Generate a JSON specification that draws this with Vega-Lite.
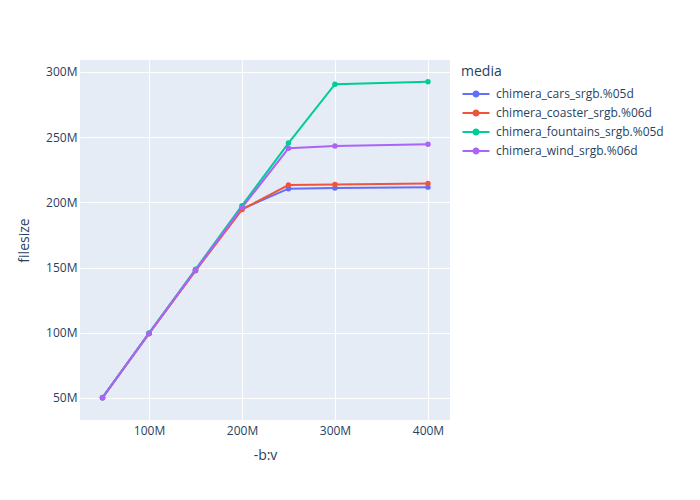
{
  "$schema": "https://vega.github.io/schema/vega-lite/v6.json",
  "width": 370,
  "height": 360,
  "autosize": {"type": "none"},
  "padding": {"left": 80, "top": 60, "right": 250, "bottom": 80},
  "background": "white",
  "data": {
    "values": [
      {"media": "chimera_cars_srgb.%05d", "bv": 50000000, "filesize": 50200000},
      {"media": "chimera_cars_srgb.%05d", "bv": 100000000, "filesize": 99500000},
      {"media": "chimera_cars_srgb.%05d", "bv": 150000000, "filesize": 148000000},
      {"media": "chimera_cars_srgb.%05d", "bv": 200000000, "filesize": 195000000},
      {"media": "chimera_cars_srgb.%05d", "bv": 250000000, "filesize": 210500000},
      {"media": "chimera_cars_srgb.%05d", "bv": 300000000, "filesize": 211000000},
      {"media": "chimera_cars_srgb.%05d", "bv": 400000000, "filesize": 211700000},
      {"media": "chimera_coaster_srgb.%06d", "bv": 50000000, "filesize": 50200000},
      {"media": "chimera_coaster_srgb.%06d", "bv": 100000000, "filesize": 99300000},
      {"media": "chimera_coaster_srgb.%06d", "bv": 150000000, "filesize": 147500000},
      {"media": "chimera_coaster_srgb.%06d", "bv": 200000000, "filesize": 194500000},
      {"media": "chimera_coaster_srgb.%06d", "bv": 250000000, "filesize": 213300000},
      {"media": "chimera_coaster_srgb.%06d", "bv": 300000000, "filesize": 213800000},
      {"media": "chimera_coaster_srgb.%06d", "bv": 400000000, "filesize": 214400000},
      {"media": "chimera_fountains_srgb.%05d", "bv": 50000000, "filesize": 50300000},
      {"media": "chimera_fountains_srgb.%05d", "bv": 100000000, "filesize": 99800000},
      {"media": "chimera_fountains_srgb.%05d", "bv": 150000000, "filesize": 148700000},
      {"media": "chimera_fountains_srgb.%05d", "bv": 200000000, "filesize": 197500000},
      {"media": "chimera_fountains_srgb.%05d", "bv": 250000000, "filesize": 245500000},
      {"media": "chimera_fountains_srgb.%05d", "bv": 300000000, "filesize": 290600000},
      {"media": "chimera_fountains_srgb.%05d", "bv": 400000000, "filesize": 292500000},
      {"media": "chimera_wind_srgb.%06d", "bv": 50000000, "filesize": 50200000},
      {"media": "chimera_wind_srgb.%06d", "bv": 100000000, "filesize": 99500000},
      {"media": "chimera_wind_srgb.%06d", "bv": 150000000, "filesize": 148000000},
      {"media": "chimera_wind_srgb.%06d", "bv": 200000000, "filesize": 196000000},
      {"media": "chimera_wind_srgb.%06d", "bv": 250000000, "filesize": 241500000},
      {"media": "chimera_wind_srgb.%06d", "bv": 300000000, "filesize": 243300000},
      {"media": "chimera_wind_srgb.%06d", "bv": 400000000, "filesize": 244500000}
    ]
  },
  "encoding": {
    "x": {
      "field": "bv", "type": "quantitative", "title": "-b:v",
      "scale": {"domain": [25800000, 423700000], "nice": false, "zero": false},
      "axis": {"values": [100000000, 200000000, 300000000, 400000000], "format": "~s", "labelPadding": 5, "titlePadding": 12}
    },
    "y": {
      "field": "filesize", "type": "quantitative", "title": "filesize",
      "scale": {"domain": [33100000, 309200000], "nice": false, "zero": false},
      "axis": {"values": [50000000, 100000000, 150000000, 200000000, 250000000, 300000000], "format": "~s", "labelPadding": 3, "titlePadding": 14}
    },
    "color": {
      "field": "media", "type": "nominal", "title": "media",
      "scale": {"range": ["#636efa", "#EF553B", "#00cc96", "#ab63fa"]},
      "legend": {
        "orient": "none",
        "legendX": 381,
        "legendY": 5,
        "symbolType": "M-2,0H2M0.38,0A0.38,0.38,0,1,1,-0.38,0A0.38,0.38,0,1,1,0.38,0Z",
        "symbolSize": 182,
        "symbolStrokeWidth": 2,
        "symbolOffset": 7,
        "padding": 0,
        "rowPadding": 4,
        "labelOffset": 12,
        "labelLimit": 0,
        "titlePadding": 7,
        "encode": {"symbols": {"update": {"fill": {"scale": "color", "field": "value"}, "opacity": {"value": 1}}}}
      }
    }
  },
  "layer": [
    {"mark": {"type": "line", "strokeWidth": 2}},
    {"mark": {"type": "circle", "size": 30, "opacity": 1}}
  ],
  "config": {
    "font": "Open Sans",
    "view": {"fill": "#E5ECF6", "stroke": null},
    "axis": {
      "domain": false, "ticks": false, "gridColor": "white", "gridWidth": 1, "gridOpacity": 1,
      "labelFont": "Open Sans", "labelFontSize": 12, "labelColor": "#2a3f5f",
      "titleFont": "Open Sans", "titleFontSize": 14, "titleColor": "#2a3f5f", "titleFontWeight": "normal"
    },
    "legend": {
      "labelFont": "Open Sans", "labelFontSize": 12, "labelColor": "#2a3f5f",
      "titleFont": "Open Sans", "titleFontSize": 14, "titleColor": "#2a3f5f", "titleFontWeight": "normal"
    }
  }
}
